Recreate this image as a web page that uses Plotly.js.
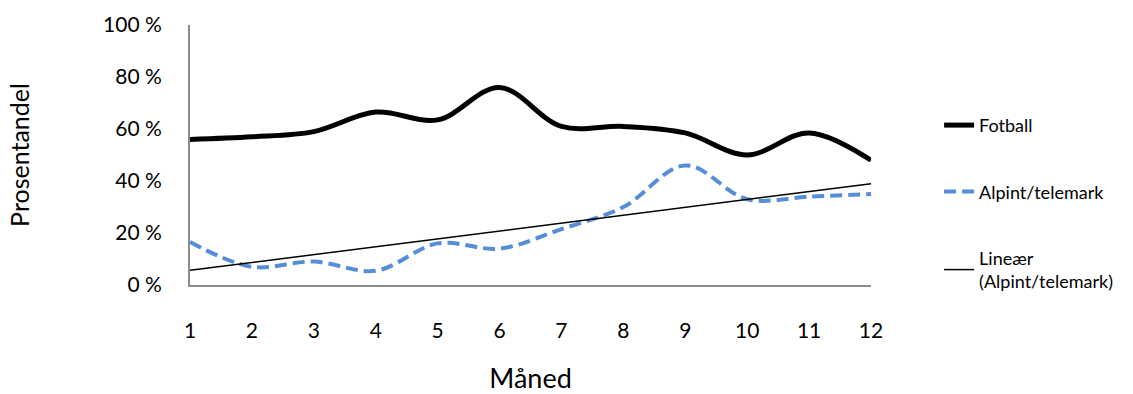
<!DOCTYPE html>
<html>
<head>
<meta charset="utf-8">
<script src="https://cdn.plot.ly/plotly-3.0.1.min.js"></script>
<style>body{margin:0;background:#fff}#chart{width:1133px;height:394px}</style>
</head>
<body>
<div id="chart"></div>
<script>
const months = [1,2,3,4,5,6,7,8,9,10,11,12];
const fotball = [56, 57, 59, 66.5, 63.5, 76, 61, 61, 58.5, 50, 58.5, 48];
const alpint = [16.5, 7, 9, 5.5, 16, 14, 21.5, 30, 46, 33, 34, 35];
const yTickVals = [0, 20, 40, 60, 80, 100];
const yTickText = ['0 %', '20 %', '40 %', '60 %', '80 %', '100 %'];

// linear trendline (least squares) of Alpint/telemark
const n = months.length;
const mx = months.reduce((a,b)=>a+b,0)/n;
const my = alpint.reduce((a,b)=>a+b,0)/n;
let sxy = 0, sxx = 0;
for (let i=0;i<n;i++){ sxy += (months[i]-mx)*(alpint[i]-my); sxx += (months[i]-mx)**2; }
const slope = sxy/sxx, icpt = my - slope*mx;
const trendX = [months[0], months[n-1]];
const trendY = trendX.map(x => icpt + slope*x);

const FONT = 'Lato, "Open Sans", sans-serif';
const traces = [
  {x: months, y: fotball, name: 'Fotball', mode: 'lines', legendgroup: 'a',
   line: {color: '#000000', width: 5, shape: 'spline', smoothing: 1}},
  {x: months, y: alpint, name: 'Alpint/telemark', mode: 'lines', legendgroup: 'b',
   line: {color: '#558ED5', width: 4, dash: '12px,6px', shape: 'spline', smoothing: 1}},
  {x: trendX, y: trendY, name: 'Lineær<br>(Alpint/telemark)', mode: 'lines', legendgroup: 'c',
   line: {color: '#000000', width: 1.5}}
];
const layout = {
  width: 1133, height: 394,
  margin: {l: 190, r: 262, t: 25, b: 109},
  paper_bgcolor: '#fff', plot_bgcolor: '#fff',
  font: {family: FONT, color: '#000'},
  showlegend: true,
  legend: {x: 1.1, y: 0.685, xanchor: 'left', yanchor: 'top', font: {size: 18, family: FONT},
           tracegroupgap: 40, bgcolor: 'rgba(0,0,0,0)'},
  xaxis: {
    range: [1, 12], tickvals: months, ticktext: months.map(String),
    showgrid: false, zeroline: false, showline: true, linecolor: '#8c8c8c', linewidth: 2,
    ticks: 'outside', ticklen: 26, tickcolor: 'rgba(0,0,0,0)', tickfont: {size: 21},
    title: {text: 'Måned', font: {size: 27}, standoff: 30}
  },
  yaxis: {
    range: [0, 100], tickvals: yTickVals, ticktext: yTickText,
    showgrid: false, zeroline: false, showline: true, linecolor: '#8c8c8c', linewidth: 2,
    ticks: 'outside', ticklen: 22, tickcolor: 'rgba(0,0,0,0)', tickfont: {size: 21},
    title: {text: 'Prosentandel', font: {size: 25}, standoff: 66}
  }
};
Plotly.newPlot('chart', traces, layout, {displayModeBar: false, staticPlot: true});
</script>
</body>
</html>
